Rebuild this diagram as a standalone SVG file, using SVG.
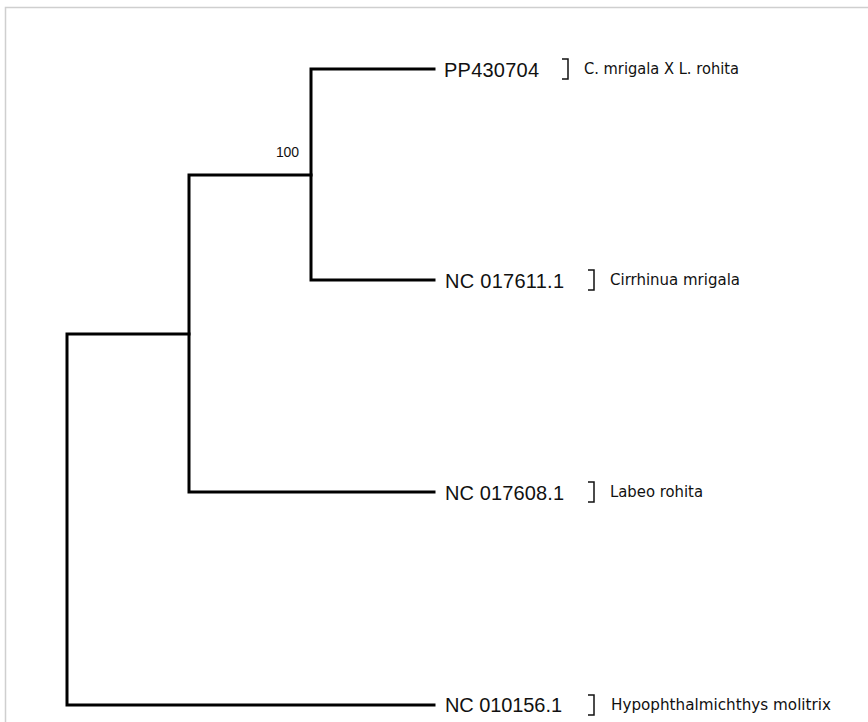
<svg xmlns="http://www.w3.org/2000/svg" width="868" height="722" viewBox="0 0 868 722">
<style>
.br{fill:none;stroke:#000;stroke-width:3;stroke-linecap:square;stroke-linejoin:miter}
.acc{font-family:"Liberation Sans",Arial,sans-serif;font-size:20px;fill:#111}
.sp{font-family:"DejaVu Sans","Noto Sans",sans-serif;font-size:15px;fill:#111}
.bk{fill:none;stroke:#111;stroke-width:1.5}
.bs{font-family:"Liberation Sans",Arial,sans-serif;font-size:14px;fill:#111}
</style>
<rect x="0" y="0" width="868" height="722" fill="#fff"/>
<path d="M5.5 722 V7.5 H868" fill="none" stroke="#cfcfcf" stroke-width="1.5"/>
<g id="connectors">
<path class="br" d="M434 69 H311 V280 H434"/>
<path class="br" d="M311 175 H189 V492 H434"/>
<path class="br" d="M189 334 H67 V705 H434"/>
<text class="bs" x="276" y="157" textLength="23">100</text>
</g>
<g id="node-PP430704">
<text class="acc" x="444" y="77" textLength="95">PP430704</text>
<path class="bk" d="M562 59 H568 V79 H562"/>
<text class="sp" x="584" y="74" textLength="155" lengthAdjust="spacingAndGlyphs">C. mrigala X L. rohita</text>
</g>
<g id="node-NC017611">
<text class="acc" x="445" y="288" textLength="119">NC 017611.1</text>
<path class="bk" d="M588 270 H594 V290 H588"/>
<text class="sp" x="610" y="285" textLength="130" lengthAdjust="spacingAndGlyphs">Cirrhinua mrigala</text>
</g>
<g id="node-NC017608">
<text class="acc" x="445" y="500" textLength="119">NC 017608.1</text>
<path class="bk" d="M588 482 H594 V502 H588"/>
<text class="sp" x="610" y="497" textLength="93" lengthAdjust="spacingAndGlyphs">Labeo rohita</text>
</g>
<g id="node-NC010156">
<text class="acc" x="445" y="712" textLength="117">NC 010156.1</text>
<path class="bk" d="M588 695 H594 V715 H588"/>
<text class="sp" x="611" y="710" textLength="220" lengthAdjust="spacingAndGlyphs">Hypophthalmichthys molitrix</text>
</g>
</svg>
